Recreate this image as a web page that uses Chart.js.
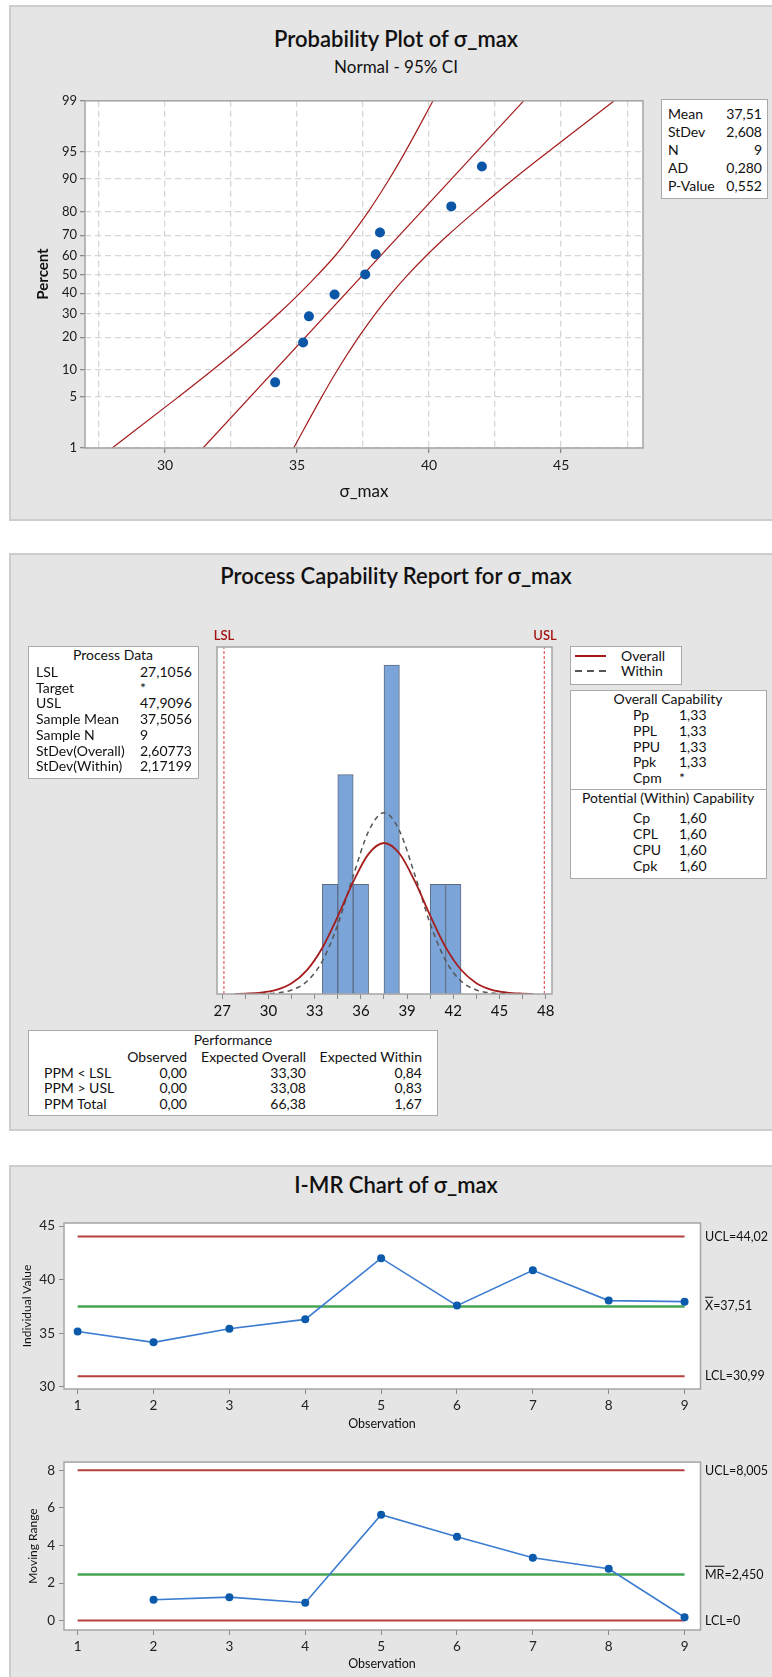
<!DOCTYPE html>
<html>
<head>
<meta charset="utf-8">
<script src="https://cdn.jsdelivr.net/npm/chart.js@4.4.1/dist/chart.umd.min.js"></script>
<style>
  body { margin: 0; width: 772px; height: 1677px; position: relative; overflow: hidden; background: #fff;
         font-family: Lato, "Noto Sans", sans-serif; color: #111; }
  .panel { position: absolute; left: 9px; width: 800px; background: #e5e5e5; border: 2px solid #cdcdcd; box-sizing: border-box; }
  .box { position: absolute; background: #fff; border: 1px solid #a9a9a9; box-sizing: border-box; }
  canvas { position: absolute; }
  .t { position: absolute; white-space: nowrap; line-height: 1; font-family: Lato, "Noto Sans", sans-serif; }
</style>
</head>
<body>
<div class="panel" style="top:5px;height:516px"></div>
<div class="panel" style="top:553px;height:578px"></div>
<div class="panel" style="top:1165px;height:520px"></div>

<div class="box" style="left:661px;top:99px;width:107px;height:100px"></div>
<div class="box" style="left:28px;top:646px;width:171px;height:133px"></div>
<div class="box" style="left:570px;top:646px;width:112px;height:39px"></div>
<div class="box" style="left:570px;top:690px;width:197px;height:189px"></div>
<div style="position:absolute;left:570px;top:789px;width:197px;border-top:1px solid #a9a9a9"></div>
<div class="box" style="left:28px;top:1030px;width:410px;height:86px"></div>
<div style="position:absolute;left:575px;top:655px;width:31px;height:2px;background:#a31a1a"></div>
<div style="position:absolute;left:575px;top:670px;width:31px;height:2px;background:repeating-linear-gradient(to right,#555 0 7px,transparent 7px 12px)"></div>

<canvas id="probChart" width="660" height="420" style="left:0;top:90px"></canvas>
<canvas id="histChart" width="370" height="400" style="left:200px;top:630px"></canvas>
<canvas id="iChart" width="772" height="230" style="left:0;top:1210px"></canvas>
<canvas id="mrChart" width="772" height="227" style="left:0;top:1450px"></canvas>

<script>
// ---- probability plot ----
const probValues = [34.17, 35.23, 35.45, 36.42, 37.58, 37.98, 38.14, 40.84, 42.0];
const probPercents = [7.4, 18.1, 28.7, 39.4, 50.0, 60.6, 71.3, 81.9, 92.6];
const probTickPercents = [1, 5, 10, 20, 30, 40, 50, 60, 70, 80, 90, 95, 99];
const ciLowerX = [28.0, 30.5, 31.8, 33.3, 34.3, 35.1, 35.8, 36.45, 37.05, 37.7, 38.5, 39.1, 40.15];
const ciUpperX = [34.87, 35.93, 36.53, 37.33, 37.97, 38.58, 39.21, 39.9, 40.71, 41.73, 43.21, 44.51, 47.01];
const fitPercents = [1, 99];
const fitX = [31.44, 43.58];
const probXTicks = [27.5, 30, 32.5, 35, 37.5, 40, 42.5, 45, 47.5];
const probXLabels = [30, 35, 40, 45];
const probStatLabels = ['Mean', 'StDev', 'N', 'AD', 'P-Value'];
const probStatValues = ['37,51', '2,608', '9', '0,280', '0,552'];

// ---- capability histogram ----
const binCenters = [34, 35, 36, 38, 41, 42];
const binCounts = [1, 2, 1, 3, 1, 1];
const overallCurveX = [27.8, 28.5, 29.5, 30.5, 31.5, 32.5, 33.5, 34.5, 35.5, 36.5, 37.5, 38.5, 39.5, 40.5, 41.5, 42.5, 43.5, 44.5, 45.5, 46.5, 47.2];
const overallCurveY = [0.001, 0.004, 0.012, 0.037, 0.097, 0.218, 0.422, 0.708, 1.023, 1.278, 1.377, 1.281, 1.029, 0.714, 0.427, 0.221, 0.099, 0.038, 0.013, 0.004, 0.001];
const withinCurveX = [29.5, 30.5, 31.5, 32.5, 33.5, 34.5, 35.5, 36.5, 37.5, 38.5, 39.5, 40.5, 41.5, 42.5, 43.5, 44.5, 45.5];
const withinCurveY = [0.002, 0.009, 0.036, 0.116, 0.301, 0.633, 1.077, 1.484, 1.653, 1.490, 1.087, 0.641, 0.306, 0.118, 0.037, 0.009, 0.002];
const specNames = ['LSL', 'USL'];
const specValues = [27.1056, 47.9096];
const histMajorTicks = [27, 30, 33, 36, 39, 42, 45, 48];
const histMinorTicks = [28.5, 31.5, 34.5, 37.5, 40.5, 43.5, 46.5];
const processDataLabels = ['LSL', 'Target', 'USL', 'Sample Mean', 'Sample N', 'StDev(Overall)', 'StDev(Within)'];
const processDataValues = ['27,1056', '*', '47,9096', '37,5056', '9', '2,60773', '2,17199'];
const overallCapLabels = ['Pp', 'PPL', 'PPU', 'Ppk', 'Cpm'];
const overallCapValues = ['1,33', '1,33', '1,33', '1,33', '*'];
const withinCapLabels = ['Cp', 'CPL', 'CPU', 'Cpk'];
const withinCapValues = ['1,60', '1,60', '1,60', '1,60'];
const perfRows = ['PPM < LSL', 'PPM > USL', 'PPM Total'];
const perfObserved = ['0,00', '0,00', '0,00'];
const perfExpOverall = ['33,30', '33,08', '66,38'];
const perfExpWithin = ['0,84', '0,83', '1,67'];

// ---- I-MR ----
const observations = [1, 2, 3, 4, 5, 6, 7, 8, 9];
const individualValues = [35.17, 34.16, 35.42, 36.3, 42.0, 37.58, 40.87, 38.05, 37.95];
const movingRanges = [null, 1.11, 1.25, 0.95, 5.64, 4.47, 3.35, 2.76, 0.18];
const iLimits = [44.02, 37.51, 30.99];   // UCL, centre, LCL
const mrLimits = [8.005, 2.45, 0];
const iTicks = [30, 35, 40, 45];
const mrTicks = [0, 2, 4, 6, 8];

// inverse normal cdf (Acklam), used for the probability axis
function probit(p) {
  const a = [-39.69683028665376, 220.9460984245205, -275.9285104469687, 138.3577518672690, -30.66479806614716, 2.506628277459239];
  const b = [-54.47609879822406, 161.5858368580409, -155.6989798598866, 66.80131188771972, -13.28068155288572];
  const c = [-0.007784894002430293, -0.3223964580411365, -2.400758277161838, -2.549732539343734, 4.374664141464968, 2.938163982698783];
  const d = [0.007784695709041462, 0.3224671290700398, 2.445134137142996, 3.754408661907416];
  const pl = 0.02425;
  if (p < pl) {
    const q = Math.sqrt(-2 * Math.log(p));
    return (((((c[0]*q+c[1])*q+c[2])*q+c[3])*q+c[4])*q+c[5]) / ((((d[0]*q+d[1])*q+d[2])*q+d[3])*q+1);
  }
  if (p > 1 - pl) {
    const q = Math.sqrt(-2 * Math.log(1 - p));
    return -(((((c[0]*q+c[1])*q+c[2])*q+c[3])*q+c[4])*q+c[5]) / ((((d[0]*q+d[1])*q+d[2])*q+d[3])*q+1);
  }
  const q = p - 0.5, r = q * q;
  return (((((a[0]*r+a[1])*r+a[2])*r+a[3])*r+a[4])*r+a[5])*q / (((((b[0]*r+b[1])*r+b[2])*r+b[3])*r+b[4])*r+1);
}

// text helper: x,y in page pixels, y is the text centre
function label(x, y, text, align, style, html) {
  const el = document.createElement('div');
  el.className = 't';
  if (html) el.innerHTML = text; else el.textContent = text;
  el.style.left = x + 'px';
  el.style.top = y + 'px';
  const tx = align === 'center' ? '-50%' : align === 'right' ? '-100%' : '0';
  el.style.transform = 'translate(' + tx + ', -50%)';
  if (style) Object.assign(el.style, style);
  document.body.appendChild(el);
  return el;
}

const title = { fontSize: '22px', fontWeight: '600' };
const small = { fontSize: '14px' };

// panel 1 text
label(396, 39, 'Probability Plot of σ_max', 'center', title);
label(396, 66, 'Normal - 95% CI', 'center', { fontSize: '17px' });
label(42, 274, 'Percent', 'center', { fontSize: '15px', fontWeight: '700', transform: 'translate(-50%,-50%) rotate(-90deg)' });
label(364, 490, 'σ_max', 'center', { fontSize: '17px' });
probStatLabels.forEach((s, i) => {
  label(668, 114 + i * 18.1, s, 'left', small);
  label(762, 114 + i * 18.1, probStatValues[i], 'right', small);
});

// panel 2 text
label(396, 576, 'Process Capability Report for σ_max', 'center', title);
label(224, 635, specNames[0], 'center', { fontSize: '13px', fontWeight: '600', color: '#a31515' });
label(545, 635, specNames[1], 'center', { fontSize: '13px', fontWeight: '600', color: '#a31515' });
label(113, 655, 'Process Data', 'center', small);
processDataLabels.forEach((s, i) => {
  label(36, 672 + i * 15.7, s, 'left', small);
  label(140, 672 + i * 15.7, processDataValues[i], 'left', small);
});
label(621, 656, 'Overall', 'left', small);
label(621, 671, 'Within', 'left', small);
label(668, 699, 'Overall Capability', 'center', small);
overallCapLabels.forEach((s, i) => {
  label(633, 715 + i * 15.8, s, 'left', small);
  label(679, 715 + i * 15.8, overallCapValues[i], 'left', small);
});
label(668, 798, 'Potential (Within) Capability', 'center', small);
withinCapLabels.forEach((s, i) => {
  label(633, 818 + i * 16, s, 'left', small);
  label(679, 818 + i * 16, withinCapValues[i], 'left', small);
});
label(233, 1040, 'Performance', 'center', small);
label(187, 1057, 'Observed', 'right', small);
label(306, 1057, 'Expected Overall', 'right', small);
label(422, 1057, 'Expected Within', 'right', small);
perfRows.forEach((s, i) => {
  const y = 1072.7 + i * 15.7;
  label(44, y, s, 'left', small);
  label(187, y, perfObserved[i], 'right', small);
  label(306, y, perfExpOverall[i], 'right', small);
  label(422, y, perfExpWithin[i], 'right', small);
});

// panel 3 text
label(396, 1185, 'I-MR Chart of σ_max', 'center', title);
label(27, 1306, 'Individual Value', 'center', { fontSize: '12px', transform: 'translate(-50%,-50%) rotate(-90deg)' });
label(33, 1546, 'Moving Range', 'center', { fontSize: '12px', transform: 'translate(-50%,-50%) rotate(-90deg)' });
label(382, 1424, 'Observation', 'center', { fontSize: '12.5px' });
label(382, 1664, 'Observation', 'center', { fontSize: '12.5px' });
const limStyle = { fontSize: '12.5px' };
label(705, 1237, 'UCL=44,02', 'left', limStyle);
label(705, 1306, '<span style="text-decoration:overline">X</span>=37,51', 'left', limStyle, true);
label(705, 1376, 'LCL=30,99', 'left', limStyle);
label(705, 1471, 'UCL=8,005', 'left', limStyle);
label(705, 1575, '<span style="text-decoration:overline">MR</span>=2,450', 'left', limStyle, true);
label(705, 1621, 'LCL=0', 'left', limStyle);

// ---- charts ----
Chart.defaults.font.family = 'Lato, "Noto Sans", sans-serif';
Chart.defaults.color = '#222';
Chart.defaults.animation = false;
Chart.defaults.plugins.legend.display = false;
Chart.defaults.plugins.tooltip.enabled = false;

const plotFrame = {
  id: 'plotFrame',
  beforeDraw(chart) {
    const { ctx, chartArea: a } = chart;
    ctx.save();
    ctx.fillStyle = '#fff';
    ctx.fillRect(a.left, a.top, a.width, a.height);
    ctx.restore();
  },
  afterDraw(chart) {
    const { ctx, chartArea: a } = chart;
    ctx.save();
    ctx.strokeStyle = '#a4a4a4';
    ctx.lineWidth = 1.5;
    ctx.strokeRect(a.left, a.top, a.width, a.height);
    ctx.restore();
  }
};

const red = '#a51d1d';

new Chart(document.getElementById('probChart'), {
  type: 'scatter',
  data: {
    datasets: [
      { data: probValues.map((v, i) => ({ x: v, y: probit(probPercents[i] / 100) })),
        pointRadius: 5, pointBackgroundColor: '#0b56a6', pointBorderWidth: 0 },
      { data: fitX.map((v, i) => ({ x: v, y: probit(fitPercents[i] / 100) })),
        showLine: true, pointRadius: 0, borderColor: red, borderWidth: 1.2 },
      { data: ciLowerX.map((v, i) => ({ x: v, y: probit(probTickPercents[i] / 100) })),
        showLine: true, pointRadius: 0, borderColor: red, borderWidth: 1.2, cubicInterpolationMode: 'monotone' },
      { data: ciUpperX.map((v, i) => ({ x: v, y: probit(probTickPercents[i] / 100) })),
        showLine: true, pointRadius: 0, borderColor: red, borderWidth: 1.2, cubicInterpolationMode: 'monotone' }
    ]
  },
  options: {
    responsive: false,
    layout: { padding: { left: 0, top: 10, right: 17, bottom: 0 } },
    scales: {
      x: {
        type: 'linear', min: 26.97, max: 48.1,
        afterBuildTicks: s => { s.ticks = probXTicks.map(v => ({ value: v })); },
        afterFit: s => { s.height = 62; },
        ticks: { callback: v => probXLabels.includes(v) ? String(v) : '', font: { size: 14 }, color: '#1a1a1a', padding: 4, maxRotation: 0, autoSkip: false },
        grid: { color: '#d6d6d6', lineWidth: 1.3, tickLength: 5,
                tickColor: c => (c.tick && probXLabels.includes(c.tick.value)) ? '#8a8a8a' : 'rgba(0,0,0,0)' },
        border: { display: false, dash: [6, 4] }
      },
      y: {
        type: 'linear', min: probit(0.01), max: probit(0.99),
        afterBuildTicks: s => { s.ticks = probTickPercents.map(p => ({ value: probit(p / 100) })); },
        afterFit: s => { s.width = 85; },
        ticks: { callback: (v, i) => String(probTickPercents[i]), font: { size: 13 }, color: '#1a1a1a', padding: 3, autoSkip: false },
        grid: { color: '#d6d6d6', lineWidth: 1.3, tickLength: 5, tickColor: '#8a8a8a' },
        border: { display: false, dash: [6, 4] }
      }
    }
  },
  plugins: [plotFrame]
});

const histYMax = 3.164;
new Chart(document.getElementById('histChart'), {
  type: 'bar',
  data: {
    datasets: [
      { type: 'line', data: overallCurveX.map((v, i) => ({ x: v, y: overallCurveY[i] })),
        borderColor: red, borderWidth: 1.8, pointRadius: 0, cubicInterpolationMode: 'monotone' },
      { type: 'line', data: withinCurveX.map((v, i) => ({ x: v, y: withinCurveY[i] })),
        borderColor: '#555', borderWidth: 1.5, borderDash: [5, 4], pointRadius: 0, cubicInterpolationMode: 'monotone' },
      { type: 'line', data: [{ x: specValues[0], y: 0 }, { x: specValues[0], y: histYMax }],
        borderColor: '#e03a3a', borderWidth: 1, borderDash: [3, 2], pointRadius: 0 },
      { type: 'line', data: [{ x: specValues[1], y: 0 }, { x: specValues[1], y: histYMax }],
        borderColor: '#e03a3a', borderWidth: 1, borderDash: [3, 2], pointRadius: 0 },
      { type: 'bar', data: binCenters.map((c, i) => ({ x: c, y: binCounts[i] })),
        backgroundColor: '#7ba4d9', borderColor: '#5d6c82', borderWidth: 1,
        barPercentage: 1, categoryPercentage: 1 }
    ]
  },
  options: {
    responsive: false,
    layout: { padding: { left: 17, top: 17, right: 18, bottom: 0 } },
    scales: {
      x: {
        type: 'linear', min: 26.656, max: 48.41, offset: false,
        afterBuildTicks: s => { s.ticks = histMajorTicks.concat(histMinorTicks).sort((a, b) => a - b).map(v => ({ value: v })); },
        afterFit: s => { s.height = 36; },
        ticks: { callback: v => histMajorTicks.includes(v) ? String(v) : '', font: { size: 15 }, color: '#111', padding: 3, maxRotation: 0, autoSkip: false },
        grid: { offset: false, drawOnChartArea: false, tickLength: 5, tickColor: '#8a8a8a' },
        border: { display: false }
      },
      y: { display: false, min: 0, max: histYMax }
    }
  },
  plugins: [plotFrame]
});

function controlChart(id, values, limits, yTicks, yMin, yMax, padTop, xHeight) {
  const lineColors = ['#b3403e', '#45a552', '#b3403e'];
  const limitSets = limits.map((v, i) => ({
    data: [{ x: observations[0], y: v }, { x: observations[observations.length - 1], y: v }],
    borderColor: lineColors[i], borderWidth: i === 1 ? 2.5 : 2, pointRadius: 0
  }));
  new Chart(document.getElementById(id), {
    type: 'line',
    data: {
      datasets: [
        { data: observations.map((o, i) => ({ x: o, y: values[i] })),
          borderColor: '#3b7bd0', borderWidth: 1.6, pointRadius: 4, pointBackgroundColor: '#0c5aab', pointBorderWidth: 0 }
      ].concat(limitSets)
    },
    options: {
      responsive: false,
      layout: { padding: { left: 0, top: padTop, right: 71.5, bottom: 0 } },
      scales: {
        x: {
          type: 'linear', min: 0.82, max: 9.21,
          afterBuildTicks: s => { s.ticks = observations.map(v => ({ value: v })); },
          afterFit: s => { s.height = xHeight; },
          ticks: { font: { size: 13.5 }, color: '#222', padding: 4, maxRotation: 0, autoSkip: false },
          grid: { drawOnChartArea: false, tickLength: 5, tickColor: '#8a8a8a' },
          border: { display: false }
        },
        y: {
          type: 'linear', min: yMin, max: yMax,
          afterBuildTicks: s => { s.ticks = yTicks.map(v => ({ value: v })); },
          afterFit: s => { s.width = 64; },
          ticks: { font: { size: 13.5 }, color: '#222', padding: 4, autoSkip: false },
          grid: { drawOnChartArea: false, tickLength: 5, tickColor: '#8a8a8a' },
          border: { display: false }
        }
      }
    },
    plugins: [plotFrame]
  });
}

controlChart('iChart', individualValues, iLimits, iTicks, 29.81, 45.28, 13, 51);
controlChart('mrChart', movingRanges, mrLimits, mrTicks, -0.5, 8.44, 12, 47);
</script>
</body>
</html>
